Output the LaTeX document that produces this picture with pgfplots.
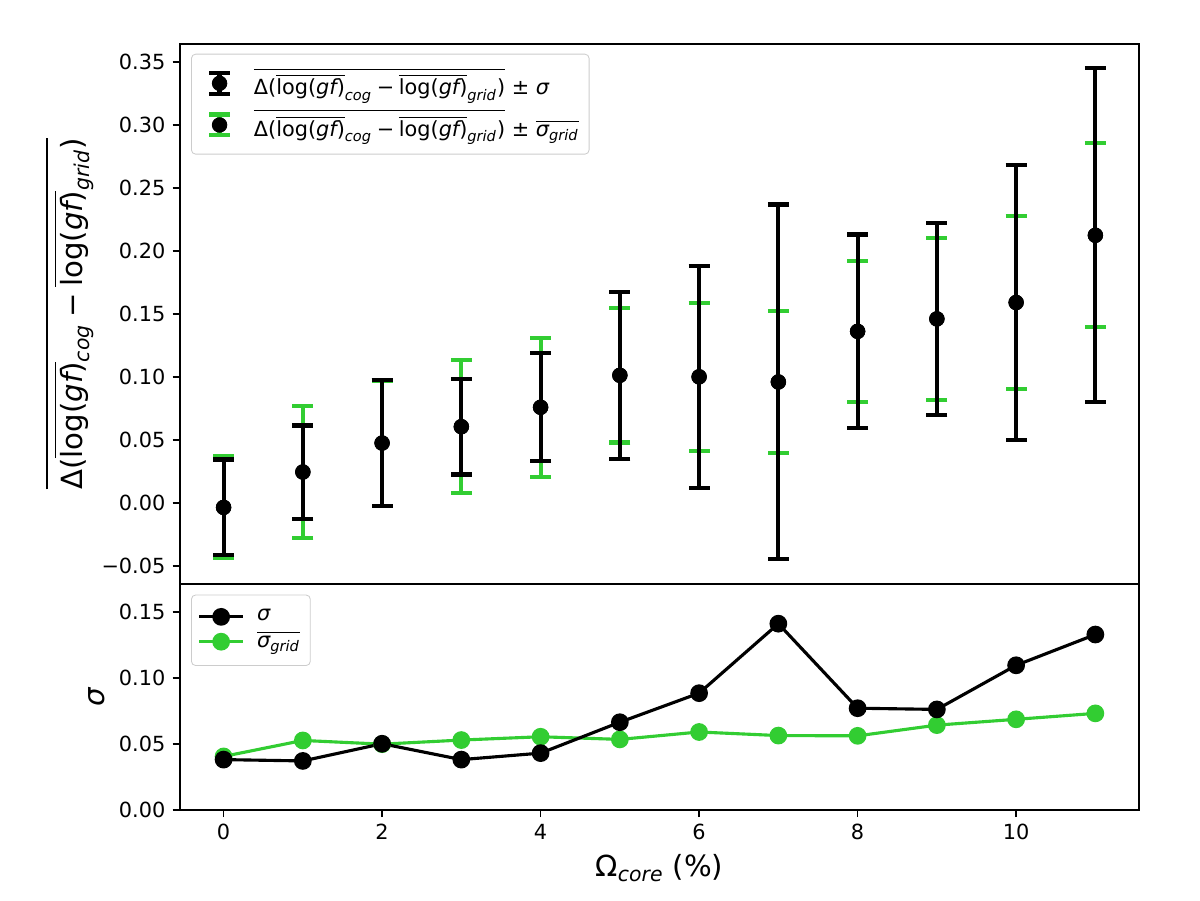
\documentclass[border=0pt]{standalone}
\usepackage{amsmath}
\usepackage{fontspec}
\setmainfont{DejaVu Sans}
\usepackage{pgfplots}
\pgfplotsset{compat=1.18}
\usepackage{pgfplotstable}
\definecolor{limegreen}{RGB}{50,205,50}
\definecolor{legframe}{RGB}{204,204,204}
\newcommand{\ti}[1]{\text{\itshape #1}}
% overline with adjustable clearance: \ovl{clearance}{content}
\newcommand{\ovl}[2]{\mathord{\vbox{\hrule height 0.05em\kern #1\hbox{$#2$}}}}
\newcommand{\lgf}{\ovl{0.14em}{\text{log(}\ti{gf}\text{)}}}
\newcommand{\dexpr}{\ovl{0.25em}{\text{Δ(}\lgf_{\ti{cog}}\mathbin{\text{−}}\lgf_{\ti{grid}}\text{)}}}
\newcommand{\sgrid}{\ovl{0.14em}{\ti{σ}_{\ti{grid}}}}

\pgfplotstableread{
x y sig sgrid
0 -0.0037 0.0380 0.0404
1 0.0244 0.0370 0.0525
2 0.0474 0.0500 0.0497
3 0.0604 0.0380 0.0528
4 0.0758 0.0429 0.0553
5 0.1012 0.0663 0.0533
6 0.1000 0.0883 0.0589
7 0.0959 0.1409 0.0562
8 0.1361 0.0769 0.0560
9 0.1460 0.0760 0.0641
10 0.1590 0.1094 0.0685
11 0.2124 0.1327 0.0730
}\datatable

\pgfplotsset{
  mystyle/.style={
    scale only axis,
    width=460.3pt,
    xmin=-0.55, xmax=11.55,
    tick align=outside,
    major tick length=3.5pt,
    xtick pos=bottom, ytick pos=left,
    axis line style={line width=0.8pt},
    every tick/.style={black, line width=0.8pt},
    /pgf/number format/assume math mode=true,
    label style={font=\fontsize{14}{17}\selectfont},
    legend cell align=left,
    legend style={at={(0,1)}, anchor=north west, xshift=5.3pt, yshift=-4.8pt,
      draw=legframe, rounded corners=2pt, fill=white, font=\normalsize,
      inner ysep=5pt, column sep=4pt},
  },
  mylinelegend/.style={
    legend image code/.code={\draw[mark repeat=2,mark phase=2,##1] plot coordinates {(0pt,0pt) (10.5pt,0pt) (21pt,0pt)};}
  },
}

\begin{document}
\begin{tikzpicture}
\begin{axis}[mystyle,
  at={(86.4pt,151.7pt)}, anchor=south west,
  height=259.3pt,
  ymin=-0.0645, ymax=0.3645,
  xtick=\empty,
  ytick={-0.05,0,0.05,0.1,0.15,0.2,0.25,0.3,0.35},
  yticklabels={−0.05,0.00,0.05,0.10,0.15,0.20,0.25,0.30,0.35},
  ylabel={$\dexpr$},
  ylabel style={at={(rel axis cs:-0.1015,0.5)}, anchor=base},
  legend style={row sep=2pt},
]
\addplot[forget plot, only marks, mark=*, mark size=3.5pt, black,
  error bars/.cd, y dir=both, y explicit,
  error bar style={limegreen, line width=2pt},
  error mark options={limegreen, line width=2pt, mark size=5pt, rotate=90}]
  table[x=x, y=y, y error=sgrid] {\datatable};
\addplot[forget plot, only marks, mark=*, mark size=3.5pt, black,
  error bars/.cd, y dir=both, y explicit,
  error bar style={black, line width=2pt},
  error mark options={black, line width=2pt, mark size=5pt, rotate=90}]
  table[x=x, y=y, y error=sig] {\datatable};
\addlegendimage{legend image code/.code={
  \path[draw=none] (0pt,0pt) -- (21pt,0pt);
  \draw[black, line width=2pt] (10.5pt,-5pt) -- (10.5pt,5pt) (5.5pt,5pt) -- (15.5pt,5pt) (5.5pt,-5pt) -- (15.5pt,-5pt);
  \fill[black] (10.5pt,0pt) circle (3.5pt);}}
\addlegendentry{$\dexpr$ ± \textit{σ}}
\addlegendimage{legend image code/.code={
  \path[draw=none] (0pt,0pt) -- (21pt,0pt);
  \draw[limegreen, line width=2pt] (10.5pt,-5pt) -- (10.5pt,5pt) (5.5pt,5pt) -- (15.5pt,5pt) (5.5pt,-5pt) -- (15.5pt,-5pt);
  \fill[black] (10.5pt,0pt) circle (3.5pt);}}
\addlegendentry{$\dexpr$ ± $\sgrid$}
\end{axis}

\begin{axis}[mystyle, mylinelegend,
  at={(86.4pt,43.3pt)}, anchor=south west,
  height=108.1pt,
  ymin=0, ymax=0.1705,
  xtick={0,2,4,6,8,10},
  ytick={0,0.05,0.1,0.15},
  yticklabels={0.00,0.05,0.10,0.15},
  xlabel={$\text{Ω}_{\ti{core}}$ (\%)},
  ylabel={$\ti{σ}$},
  reverse legend,
]
\addplot[limegreen, line width=1.5pt, mark=*, mark size=3.5pt, mark options={solid, fill=limegreen}]
  table[x=x, y=sgrid] {\datatable};
\addlegendentry{$\sgrid$}
\addplot[black, line width=1.5pt, mark=*, mark size=3.5pt, mark options={solid, fill=black}]
  table[x=x, y=sig] {\datatable};
\addlegendentry{$\ti{σ}$}
\end{axis}
\pgfresetboundingbox
\path (0pt,0pt) rectangle (576pt,432pt);
\end{tikzpicture}
\end{document}
